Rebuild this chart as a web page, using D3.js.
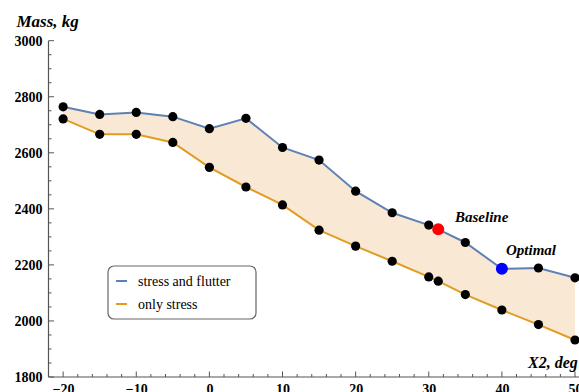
<!DOCTYPE html>
<html>
<head>
<meta charset="utf-8">
<script src="https://cdn.jsdelivr.net/npm/d3@7"></script>
<style>
  html, body { margin: 0; padding: 0; background: #fff; }
  svg { display: block; }
</style>
</head>
<body>
<svg id="chart" width="579" height="392"></svg>
<script>
// Sweep angle X2 (deg) and resulting mass (kg)
const angles = [-20, -15, -10, -5, 0, 5, 10, 15, 20, 25, 30, 31.3, 35, 40, 45, 50];
const massStressFlutter = [2764, 2737, 2744, 2729, 2686, 2723, 2619, 2574, 2463, 2386, 2342, 2327, 2280, 2186, 2189, 2154];
const massStressOnly = [2721, 2666, 2666, 2637, 2548, 2478, 2414, 2324, 2267, 2213, 2157, 2142, 2094, 2039, 1987, 1932];
const seriesNames = ["stress and flutter", "only stress"];
const xTicks = [-20, -10, 0, 10, 20, 30, 40, 50];
const yTicks = [1800, 2000, 2200, 2400, 2600, 2800, 3000];
const baselineIndex = 11;   // X2 = 31.3
const optimalIndex = 13;    // X2 = 40

const colors = { flutter: "#5e81b5", stress: "#e19c24", fill: "#f9e8d3" };
const serif = "'Liberation Serif', 'Times New Roman', serif";

const svg = d3.select("#chart");
const x = d3.scaleLinear().domain([-22, 50]).range([48.5, 575]);
const y = d3.scaleLinear().domain([1800, 3000]).range([377, 40.7]);

const pts = angles.map((a, i) => ({ a, hi: massStressFlutter[i], lo: massStressOnly[i] }));

// band between the two constraint cases
svg.append("path")
  .datum(pts)
  .attr("fill", colors.fill)
  .attr("d", d3.area().x(d => x(d.a)).y0(d => y(d.lo)).y1(d => y(d.hi)));

const line = key => d3.line().x(d => x(d.a)).y(d => y(d[key]));
svg.append("path").datum(pts).attr("fill", "none")
  .attr("stroke", colors.flutter).attr("stroke-width", 2).attr("d", line("hi"));
svg.append("path").datum(pts).attr("fill", "none")
  .attr("stroke", colors.stress).attr("stroke-width", 2).attr("d", line("lo"));

// data markers
["hi", "lo"].forEach(key => {
  svg.append("g").selectAll("circle")
    .data(pts.filter((d, i) => !(key === "hi" && (i === baselineIndex || i === optimalIndex))))
    .join("circle")
    .attr("cx", d => x(d.a)).attr("cy", d => y(d[key]))
    .attr("r", 4.6).attr("fill", "#000");
});

// highlighted designs
svg.append("circle").attr("cx", x(angles[baselineIndex])).attr("cy", y(massStressFlutter[baselineIndex]))
  .attr("r", 6).attr("fill", "#ff0000");
svg.append("circle").attr("cx", x(angles[optimalIndex])).attr("cy", y(massStressFlutter[optimalIndex]))
  .attr("r", 6).attr("fill", "#0000ff");

svg.append("text").attr("x", 455).attr("y", 221.5)
  .attr("font-family", serif).attr("font-size", 15).attr("font-weight", "bold").attr("font-style", "italic")
  .text("Baseline");
svg.append("text").attr("x", 506).attr("y", 255)
  .attr("font-family", serif).attr("font-size", 15).attr("font-weight", "bold").attr("font-style", "italic")
  .text("Optimal");

// axes
const axisColor = "#555";
const xAxis = d3.axisBottom(x).tickValues(xTicks).tickSize(0).tickPadding(8)
  .tickFormat(d => d < 0 ? "\u2212" + Math.abs(d) : d);
const gx = svg.append("g").attr("transform", `translate(0,${y(1800)})`).call(xAxis);
gx.select(".domain").attr("d", `M${x(-22)},0H579`).attr("stroke", axisColor).attr("stroke-width", 1.2);
gx.selectAll("text").attr("font-family", serif).attr("font-size", 14).attr("font-weight", "bold")
  .attr("fill", "#000").attr("dy", "0.9em").attr("y", 4);

const yAxis = d3.axisLeft(y).tickValues(yTicks).tickSize(0).tickPadding(6).tickFormat(d3.format("d"));
const gy = svg.append("g").attr("transform", `translate(${x(-22)},0)`).call(yAxis);
gy.select(".domain").attr("d", `M0,${y(3000)}V${y(1800)}`).attr("stroke", axisColor).attr("stroke-width", 1.2);
gy.selectAll("text").attr("font-family", serif).attr("font-size", 14).attr("font-weight", "bold").attr("fill", "#000");

// inward ticks: majors and minors
const tickG = svg.append("g").attr("stroke", axisColor).attr("stroke-width", 1);
d3.range(-22, 51, 2).forEach(v => {
  const major = v % 10 === 0;
  tickG.append("line").attr("x1", x(v)).attr("x2", x(v))
    .attr("y1", y(1800)).attr("y2", y(1800) - (major ? 5.5 : 3));
});
d3.range(1800, 3001, 50).forEach(v => {
  const major = v % 200 === 0;
  tickG.append("line").attr("y1", y(v)).attr("y2", y(v))
    .attr("x1", x(-22)).attr("x2", x(-22) + (major ? 5.5 : 3));
});

// axis titles
svg.append("text").attr("x", 16.5).attr("y", 26.5)
  .attr("font-family", serif).attr("font-size", 17).attr("font-weight", "bold").attr("font-style", "italic")
  .text("Mass, kg");
svg.append("text").attr("x", 528).attr("y", 368)
  .attr("font-family", serif).attr("font-size", 16).attr("font-weight", "bold").attr("font-style", "italic")
  .text("X2, deg");

// legend
const lg = svg.append("g").attr("transform", "translate(108,266)");
lg.append("rect").attr("width", 148).attr("height", 53).attr("rx", 6)
  .attr("fill", "#fff").attr("stroke", "#666").attr("stroke-width", 1.2);
[colors.flutter, colors.stress].forEach((c, i) => {
  const yy = 15 + i * 23;
  lg.append("line").attr("x1", 8).attr("x2", 19).attr("y1", yy).attr("y2", yy)
    .attr("stroke", c).attr("stroke-width", 2);
  lg.append("text").attr("x", 30).attr("y", yy + 4.5)
    .attr("font-family", serif).attr("font-size", 14).attr("fill", "#000")
    .text(seriesNames[i]);
});
</script>
</body>
</html>
